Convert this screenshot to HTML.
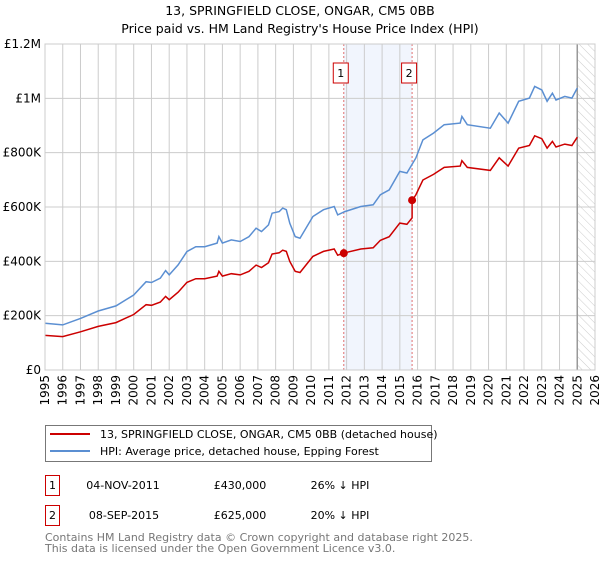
<!DOCTYPE html>
<html><head><meta charset="utf-8"><style>
body{margin:0;background:#fff;width:600px;height:560px;overflow:hidden;font-family:"Liberation Sans","DejaVu Sans",sans-serif}
svg text{font-family:"DejaVu Sans","Liberation Sans",sans-serif}
</style></head><body>
<svg id="chart" width="600" height="560" xmlns="http://www.w3.org/2000/svg">
<text x="300" y="15" text-anchor="middle" font-size="12.5">13, SPRINGFIELD CLOSE, ONGAR, CM5 0BB</text>
<text x="300" y="33" text-anchor="middle" font-size="12.5">Price paid vs. HM Land Registry's House Price Index (HPI)</text>
<defs><pattern id="hatch" width="6" height="6" patternUnits="userSpaceOnUse" patternTransform="rotate(-45)"><line x1="0" y1="0" x2="0" y2="6" stroke="#ccc" stroke-width="1"/></pattern></defs>
<g id="grid"></g><g id="marks"></g><g id="axes"></g>
<g>
<rect x="45.5" y="425.5" width="386" height="36" fill="#fff" stroke="#777"/>
<line x1="50" y1="434" x2="90" y2="434" stroke="#cc0000" stroke-width="2"/>
<text x="100" y="438" font-size="11">13, SPRINGFIELD CLOSE, ONGAR, CM5 0BB (detached house)</text>
<line x1="50" y1="451" x2="90" y2="451" stroke="#5b8fd2" stroke-width="2"/>
<text x="100" y="455" font-size="11">HPI: Average price, detached house, Epping Forest</text>
</g>
<g font-size="11">
<rect x="45.5" y="475.5" width="14" height="20" fill="#fff" stroke="#cc0000"/>
<text x="52.5" y="489" text-anchor="middle">1</text>
<text x="123" y="489" text-anchor="middle">04-NOV-2011</text>
<text x="240" y="489" text-anchor="middle">£430,000</text>
<text x="340" y="489" text-anchor="middle">26% ↓ HPI</text>
<rect x="45.5" y="505.5" width="14" height="20" fill="#fff" stroke="#cc0000"/>
<text x="52.5" y="519" text-anchor="middle">2</text>
<text x="124" y="519" text-anchor="middle">08-SEP-2015</text>
<text x="240" y="519" text-anchor="middle">£625,000</text>
<text x="340" y="519" text-anchor="middle">20% ↓ HPI</text>
</g>
<text x="45" y="541" font-size="11" fill="#777">Contains HM Land Registry data © Crown copyright and database right 2025.</text>
<text x="45" y="552" font-size="11" fill="#777">This data is licensed under the Open Government Licence v3.0.</text>
</svg>
<script>
const hpiYears=[1995,1996,1997,1998,1999,2000,2000.7,2001,2001.5,2001.8,2002,2002.5,2003,2003.5,2004,2004.7,2004.8,2005,2005.5,2006,2006.5,2006.9,2007.2,2007.6,2007.8,2008.2,2008.4,2008.6,2008.8,2009.1,2009.37,2010.1,2010.7,2011.3,2011.5,2011.9,2012.8,2013.5,2013.9,2014.4,2015,2015.4,2015.9,2016.3,2016.9,2017.5,2018.4,2018.5,2018.8,2020.1,2020.6,2021.1,2021.7,2022.3,2022.6,2023,2023.3,2023.6,2023.8,2024.3,2024.7,2025];
const hpiValues=[172000,166000,190000,217000,236000,276000,325000,322000,338000,366000,350000,387000,436000,454000,454000,467000,491000,467000,479000,473000,491000,522000,510000,534000,577000,583000,596000,590000,540000,491000,485000,565000,590000,602000,571000,583000,602000,608000,645000,663000,731000,725000,780000,847000,872000,903000,909000,933000,903000,890000,946000,909000,989000,1001000,1044000,1031000,989000,1019000,994000,1007000,1001000,1038000];
const saleYears=[2011.84,2015.69];
const salePrices=[430000,625000];
const saleLabels=["1","2"];
const yTicks=[0,200000,400000,600000,800000,1000000,1200000];
const yTickLabels=["£0","£200K","£400K","£600K","£800K","£1M","£1.2M"];
const xTicks=[1995,1996,1997,1998,1999,2000,2001,2002,2003,2004,2005,2006,2007,2008,2009,2010,2011,2012,2013,2014,2015,2016,2017,2018,2019,2020,2021,2022,2023,2024,2025,2026];
const dataEnd=2025.0;

const X0=45,X1=595,Y0=370,Y1=44;
const xs=y=>X0+(y-1995)/(2026-1995)*(X1-X0);
const ys=v=>Y0-v/1200000*(Y0-Y1);
const NS="http://www.w3.org/2000/svg";
function mk(tag,attrs,parent){const e=document.createElementNS(NS,tag);for(const k in attrs)e.setAttribute(k,attrs[k]);parent.appendChild(e);return e;}
const grid=document.getElementById('grid'),marks=document.getElementById('marks'),axes=document.getElementById('axes');
function hpiAt(t){for(let i=1;i<hpiYears.length;i++){if(t<=hpiYears[i]){const a=hpiYears[i-1],b=hpiYears[i];return hpiValues[i-1]+(hpiValues[i]-hpiValues[i-1])*(t-a)/(b-a);}}return hpiValues[hpiValues.length-1];}

const sh=mk('rect',{x:xs(saleYears[0]),y:Y1,width:xs(saleYears[1])-xs(saleYears[0]),height:Y0-Y1,fill:'#eef3fc',opacity:0.8},grid);


const hz=mk('rect',{x:xs(dataEnd),y:Y1,width:X1-xs(dataEnd),height:Y0-Y1,fill:'url(#hatch)'},grid);


yTicks.forEach((v,i)=>{
 mk('line',{x1:X0,x2:X1,y1:ys(v),y2:ys(v),stroke:'#ccc','stroke-width':1},grid);
 const t=mk('text',{x:X0-4,y:ys(v)+4,'text-anchor':'end','font-size':12},axes);t.textContent=yTickLabels[i];
 
 
});
xTicks.forEach(y=>{
 mk('line',{x1:xs(y),x2:xs(y),y1:Y1,y2:Y0,stroke:'#ccc','stroke-width':1},grid);
 const t=mk('text',{x:0,y:0,'text-anchor':'end','font-size':12,transform:`translate(${xs(y)+4},${Y0+5}) rotate(-90)`},axes);t.textContent=y;
 
 
});
mk('line',{x1:xs(dataEnd),x2:xs(dataEnd),y1:Y1,y2:Y0,stroke:'#999','stroke-width':1.5},grid);
saleYears.forEach((s,i)=>{
 const l=mk('line',{x1:xs(s),x2:xs(s),y1:Y1,y2:Y0,stroke:'#e07070','stroke-width':1,'stroke-dasharray':'2,2'},grid);
 
 
 const bx=xs(s)-3;
 const r=mk('rect',{x:bx-7.5,y:63,width:15,height:20,fill:'#fff',stroke:'#cc0000'},marks);
 
 
 const t=mk('text',{x:bx,y:77,'text-anchor':'middle','font-size':11},marks);t.textContent=saleLabels[i];
});
let d='';hpiYears.forEach((y,i)=>{d+=(i?'L':'M')+xs(y).toFixed(1)+','+ys(hpiValues[i]).toFixed(1);});
const hp=mk('path',{d:d,fill:'none',stroke:'#5b8fd2','stroke-width':1.5},marks);


let pts=[];
function ratioAt(t){return t<saleYears[1]?salePrices[0]/hpiAt(saleYears[0]):salePrices[1]/hpiAt(saleYears[1]);}
hpiYears.forEach((y,i)=>{
 if(y>saleYears[1]&&pts.length&&pts[pts.length-1][0]<saleYears[1]){pts.push([saleYears[1],hpiAt(saleYears[1])*ratioAt(saleYears[1]-0.001)]);pts.push([saleYears[1],salePrices[1]]);}
 pts.push([y,hpiValues[i]*ratioAt(y)]);
});
let d2='';pts.forEach((p,i)=>{d2+=(i?'L':'M')+xs(p[0]).toFixed(1)+','+ys(p[1]).toFixed(1);});
const pp=mk('path',{d:d2,fill:'none',stroke:'#cc0000','stroke-width':1.5},marks);


saleYears.forEach((s,i)=>{
 const c=mk('circle',{cx:xs(s),cy:ys(salePrices[i]),r:4,fill:'#cc0000'},marks);
 
 
});
mk('rect',{x:X0,y:Y1,width:X1-X0,height:Y0-Y1,fill:'none',stroke:'#ccc'},axes);
</script>
</body></html>
